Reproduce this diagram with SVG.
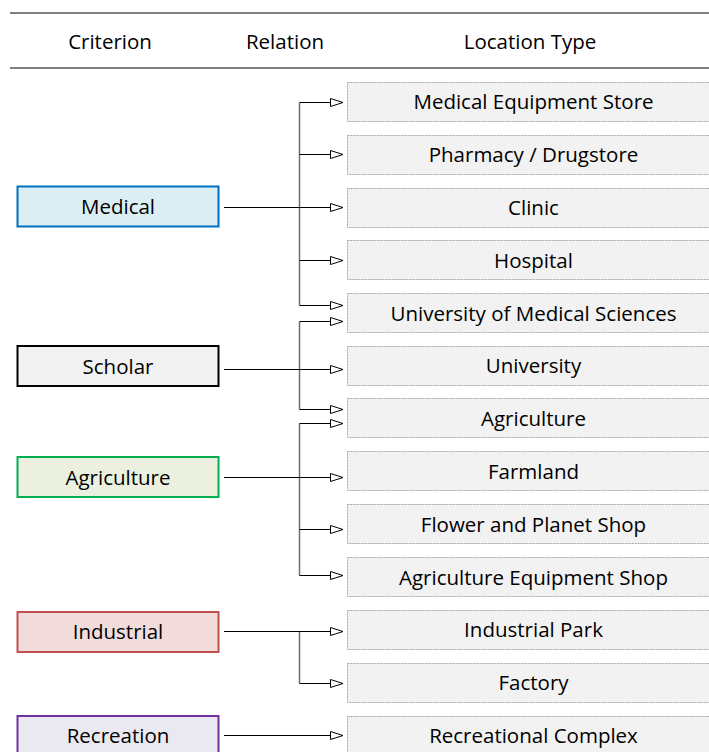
<svg xmlns="http://www.w3.org/2000/svg" width="709" height="752" viewBox="0 0 709 752">
<style>
text{font-family:"Open Sans","Liberation Sans",sans-serif;font-size:20.5px;fill:#000;text-anchor:middle}
.crit{stroke-width:2}
.loc{fill:#F2F2F2;stroke:#A6A6A6;stroke-width:1;stroke-dasharray:2 1}
.hdr{stroke:#808080;stroke-width:2}
.edge{fill:none;stroke:#000;stroke-width:1;marker-end:url(#arr)}
.stub{fill:none;stroke:#000;stroke-width:1}
.trunk{fill:none;stroke:#6e6e6e;stroke-width:1.5}
</style>
<defs>
<marker id="arr" markerUnits="userSpaceOnUse" markerWidth="15" markerHeight="10" refX="13" refY="4.5" orient="auto">
<path d="M0.5,0.5 L13,4.5 L0.5,8.5 Z" fill="#fff" stroke="#000" stroke-width="1"/>
</marker>
</defs>
<g id="header">
<line class="hdr" x1="10" y1="13" x2="709" y2="13"/>
<line class="hdr" x1="10" y1="68" x2="709" y2="68"/>
<text x="110" y="49">Criterion</text>
<text x="285" y="49">Relation</text>
<text x="530" y="49">Location Type</text>
</g>
<g id="connectors">
<path class="trunk" d="M299.5,102.5 V305.5"/>
<path class="trunk" d="M299.5,321.5 V409.5"/>
<path class="trunk" d="M299.5,423.5 V575.5"/>
<path class="trunk" d="M299.5,631.5 V683.5"/>
<path class="edge" d="M299.5,102.5 H343"/>
<path class="edge" d="M299.5,154.5 H343"/>
<path class="edge" d="M224,207.5 H343"/>
<path class="edge" d="M299.5,260.5 H343"/>
<path class="edge" d="M299.5,305.5 H343"/>
<path class="edge" d="M299.5,321.5 H343"/>
<path class="edge" d="M224,369.5 H343"/>
<path class="edge" d="M299.5,409.5 H343"/>
<path class="edge" d="M299.5,423.5 H343"/>
<path class="edge" d="M224,477.5 H343"/>
<path class="edge" d="M299.5,529.5 H343"/>
<path class="edge" d="M299.5,575.5 H343"/>
<path class="edge" d="M224,631.5 H343"/>
<path class="edge" d="M299.5,683.5 H343"/>
<path class="edge" d="M224,735.5 H343"/>
</g>
<g id="medical"><rect class="crit" x="17.5" y="186.5" width="201" height="40" fill="#DAEEF3" stroke="#0070C0"/><text x="118" y="214">Medical</text></g>
<g id="scholar"><rect class="crit" x="17.5" y="346" width="201" height="40" fill="#F2F2F2" stroke="#000"/><text x="118" y="373.5">Scholar</text></g>
<g id="agriculture"><rect class="crit" x="17.5" y="457" width="201" height="40" fill="#EBF1DE" stroke="#00B050"/><text x="118" y="484.5">Agriculture</text></g>
<g id="industrial"><rect class="crit" x="17.5" y="612" width="201" height="40" fill="#F2DCDB" stroke="#C0504D"/><text x="118" y="639">Industrial</text></g>
<g id="recreation"><rect class="crit" x="17.5" y="716" width="201" height="40" fill="#EAE8F0" stroke="#7030A0"/><text x="118" y="743">Recreation</text></g>
<g id="loc-medical-equipment-store"><rect class="loc" x="347.5" y="82.5" width="380" height="39"/><text x="533.5" y="109.3">Medical Equipment Store</text></g>
<g id="loc-pharmacy"><rect class="loc" x="347.5" y="135.5" width="380" height="39"/><text x="533.5" y="162.1">Pharmacy / Drugstore</text></g>
<g id="loc-clinic"><rect class="loc" x="347.5" y="188.5" width="380" height="39"/><text x="533.5" y="214.9">Clinic</text></g>
<g id="loc-hospital"><rect class="loc" x="347.5" y="240.5" width="380" height="39"/><text x="533.5" y="267.7">Hospital</text></g>
<g id="loc-univ-med"><rect class="loc" x="347.5" y="293.5" width="380" height="39"/><text x="533.5" y="320.5">University of Medical Sciences</text></g>
<g id="loc-university"><rect class="loc" x="347.5" y="346.5" width="380" height="39"/><text x="533.5" y="373.3">University</text></g>
<g id="loc-agriculture"><rect class="loc" x="347.5" y="398.5" width="380" height="39"/><text x="533.5" y="426.1">Agriculture</text></g>
<g id="loc-farmland"><rect class="loc" x="347.5" y="451.5" width="380" height="39"/><text x="533.5" y="478.9">Farmland</text></g>
<g id="loc-flower"><rect class="loc" x="347.5" y="504.5" width="380" height="39"/><text x="533.5" y="531.7">Flower and Planet Shop</text></g>
<g id="loc-agri-equipment"><rect class="loc" x="347.5" y="557.5" width="380" height="39"/><text x="533.5" y="584.5">Agriculture Equipment Shop</text></g>
<g id="loc-industrial-park"><rect class="loc" x="347.5" y="610.5" width="380" height="39"/><text x="533.5" y="637.3">Industrial Park</text></g>
<g id="loc-factory"><rect class="loc" x="347.5" y="663.5" width="380" height="39"/><text x="533.5" y="690.1">Factory</text></g>
<g id="loc-recreational-complex"><rect class="loc" x="347.5" y="716.5" width="380" height="39"/><text x="533.5" y="742.9">Recreational Complex</text></g>
</svg>
